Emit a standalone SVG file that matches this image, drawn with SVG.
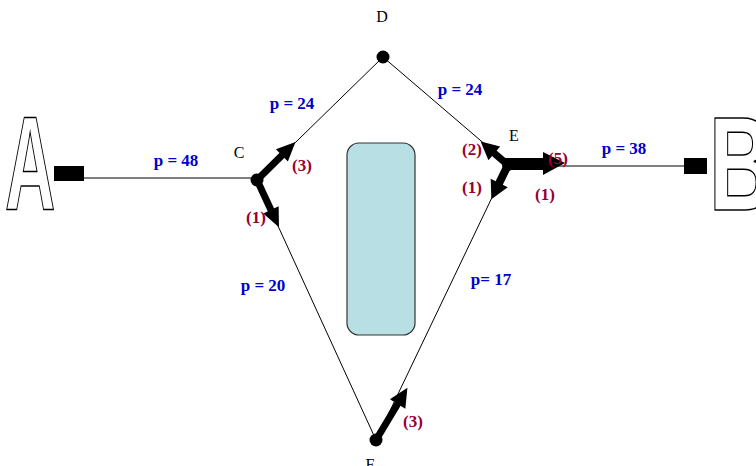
<svg xmlns="http://www.w3.org/2000/svg" width="756" height="466" viewBox="0 0 756 466">
<style>
.ln{stroke:#000;stroke-width:1;fill:none}
.dot{fill:#000}
.nl{font-family:"Liberation Serif",serif;font-size:16px;fill:#000;text-anchor:middle}
.p{font-family:"Liberation Serif",serif;font-size:17px;font-weight:bold;fill:#0000cc;text-anchor:middle}
.r{font-family:"Liberation Serif",serif;font-size:17px;font-weight:bold;fill:#990033;text-anchor:middle}
.big{font-family:"Liberation Sans",Arial,sans-serif;font-weight:bold;font-size:134px;fill:#fff;stroke:#000;stroke-width:1.3}
.arr{fill:#000;stroke:none}
</style>
<rect width="756" height="466" fill="#fff"/>
<g id="obstacle"><rect x="347" y="143" width="68" height="192" rx="12" fill="#b8e0e4" stroke="#333" stroke-width="1.2"/></g>
<g id="connectors">
<line class="ln" x1="84" y1="178" x2="257" y2="178"/>
<line class="ln" x1="257" y1="180" x2="383" y2="57"/>
<line class="ln" x1="383" y1="57" x2="508" y2="164"/>
<line class="ln" x1="257" y1="180" x2="376" y2="440"/>
<line class="ln" x1="508" y1="164" x2="376" y2="440"/>
<line class="ln" x1="508" y1="166" x2="686" y2="166"/>
</g>
<g id="A"><text class="big" transform="translate(5,210) scale(0.52,1)" style="vector-effect:non-scaling-stroke">A</text><rect x="54" y="166" width="30" height="15" fill="#000"/></g>
<g id="B"><text class="big" transform="translate(709,210) scale(0.66,1)" style="vector-effect:non-scaling-stroke">B</text><rect x="684" y="158" width="23" height="16" fill="#000"/></g>
<g id="D"><circle class="dot" cx="383" cy="57" r="6.5"/><text class="nl" x="382" y="22">D</text></g>
<g id="C"><circle class="dot" cx="257" cy="180" r="6.5"/><text class="nl" x="239" y="158">C</text></g>
<g id="E"><circle class="dot" cx="508" cy="165" r="6"/><text class="nl" x="514" y="141">E</text></g>
<g id="F"><circle class="dot" cx="376" cy="440" r="6.5"/><text class="nl" x="370" y="470">F</text></g>
<g id="flows">
<g id="fCD" transform="translate(257,180) rotate(-44.6)">
<rect class="arr" x="0" y="-3.5" width="37" height="7"/><polygon class="arr" points="35,-8.5 54,0 35,8.5"/></g>
<g id="fCF" transform="translate(257,180) rotate(65)">
<rect class="arr" x="0" y="-3.5" width="35" height="7"/><polygon class="arr" points="33,-8.5 52,0 33,8.5"/></g>
<g id="fED" transform="translate(508,165) rotate(-139.5)">
<rect class="arr" x="0" y="-3.5" width="20" height="7"/><polygon class="arr" points="18,-9 36,0 18,9"/></g>
<g id="fEF" transform="translate(508,165) rotate(116)">
<rect class="arr" x="0" y="-4" width="22" height="8"/><polygon class="arr" points="20,-9.5 38,0 20,9.5"/></g>
<g id="fEB" transform="translate(503,164)">
<rect class="arr" x="0" y="-6" width="44" height="12"/><polygon class="arr" points="40,-12 62,-1 40,11"/></g>
<g id="fF" transform="translate(376,440) rotate(-59)">
<rect class="arr" x="0" y="-3.5" width="44" height="7"/><polygon class="arr" points="42,-9 61,0 42,9"/></g>
</g>
<g id="labels">
<text class="p" x="176" y="166">p = 48</text>
<text class="p" x="292" y="109">p = 24</text>
<text class="p" x="460" y="95">p = 24</text>
<text class="p" x="263" y="291">p = 20</text>
<text class="p" x="491" y="285">p= 17</text>
<text class="p" x="624" y="154">p = 38</text>
<text class="r" x="302" y="171">(3)</text>
<text class="r" x="256" y="223">(1)</text>
<text class="r" x="472" y="155">(2)</text>
<text class="r" x="472" y="193">(1)</text>
<text class="r" x="558" y="164">(5)</text>
<text class="r" x="545" y="200">(1)</text>
<text class="r" x="413" y="427">(3)</text>
</g>
</svg>
